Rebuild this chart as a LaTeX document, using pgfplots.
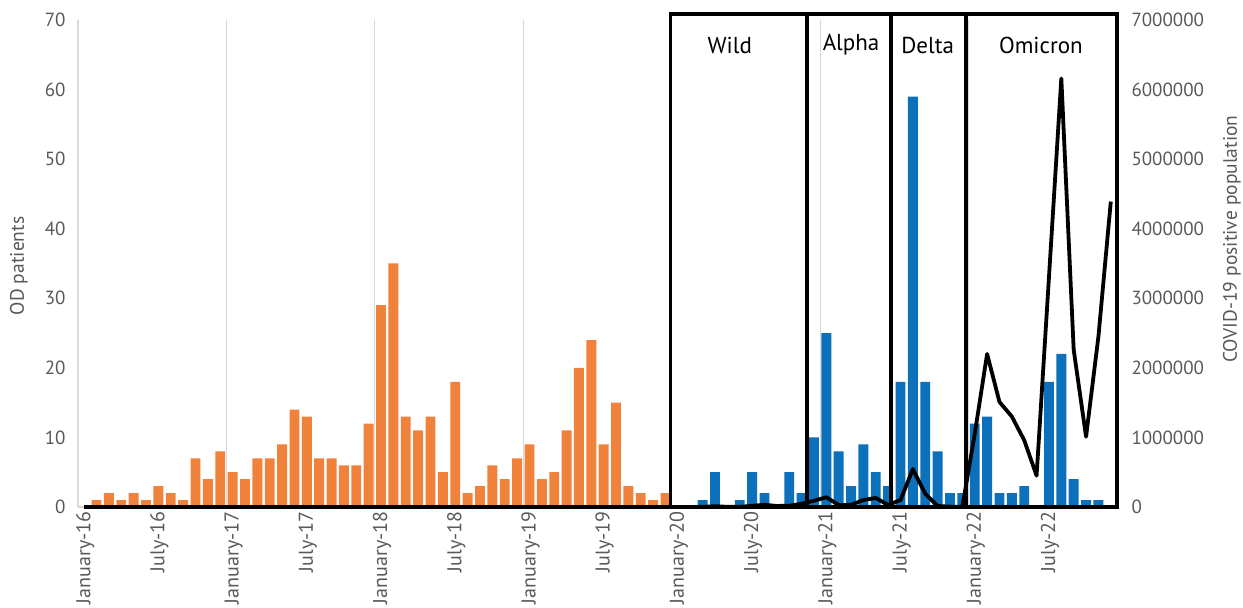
\documentclass[border=0pt]{standalone}
\usepackage{pgfplots}
\pgfplotsset{compat=1.18}
\usepackage{fontspec}
\setmainfont{PT Sans}
\definecolor{barorange}{RGB}{241,130,60}
\definecolor{barblue}{RGB}{12,112,186}
\definecolor{txtgray}{RGB}{89,89,89}
\definecolor{gridgray}{RGB}{217,217,217}

\pgfplotstableread{
x y
0 0
1 1
2 2
3 1
4 2
5 1
6 3
7 2
8 1
9 7
10 4
11 8
12 5
13 4
14 7
15 7
16 9
17 14
18 13
19 7
20 7
21 6
22 6
23 12
24 29
25 35
26 13
27 11
28 13
29 5
30 18
31 2
32 3
33 6
34 4
35 7
36 9
37 4
38 5
39 11
40 20
41 24
42 9
43 15
44 3
45 2
46 1
47 2
}\prepandemic

\pgfplotstableread{
x y
48 0
49 0
50 1
51 5
52 0
53 1
54 5
55 2
56 0
57 5
58 2
59 10
60 25
61 8
62 3
63 9
64 5
65 3
66 18
67 59
68 18
69 8
70 2
71 2
72 12
73 13
74 2
75 2
76 3
77 0
78 18
79 22
80 4
81 1
82 1
83 0
}\pandemic

\pgfplotstableread{
x y
0 0
47 0
48 0
49 200
50 2000
51 12000
52 2500
53 2000
54 17000
55 32000
56 15000
57 18000
58 47000
59 90000
60 140000
61 30000
62 30000
63 100000
64 130000
65 30000
66 100000
67 545000
68 190000
69 15000
70 5000
71 5000
72 1050000
73 2200000
74 1510000
75 1300000
76 960000
77 450000
78 3300000
79 6160000
80 2260000
81 1010000
82 2450000
83 4390000
}\covid

\begin{document}
\begin{tikzpicture}[x=1pt,y=1pt]
\path[use as bounding box] (-78,-101) rectangle (1165,507);
\begin{axis}[
  at={(0,0)}, anchor=south west,
  scale only axis, width=1039pt, height=487pt,
  xmin=-0.5, xmax=83.5, ymin=0, ymax=70,
  clip=false,
  axis x line*=bottom, axis y line*=left,
  axis line style={-, draw=gridgray, line width=1.2pt},
  major tick length=0pt,
  ytick={0,10,20,30,40,50,60,70},
  yticklabel style={text=txtgray, font=\fontsize{19}{23}\selectfont, xshift=-9pt},
  xtick={0,6,12,18,24,30,36,42,48,54,60,66,72,78},
  xticklabels={January-16,July-16,January-17,July-17,January-18,July-18,January-19,July-19,January-20,July-20,January-21,July-21,January-22,July-22},
  xticklabel style={rotate=90, anchor=east, text=txtgray, font=\fontsize{20}{24}\selectfont, yshift=-1pt, xshift=-1pt},
  extra x ticks={-0.5,11.5,23.5,35.5,47.5,59.5,71.5},
  extra x tick labels={},
  extra x tick style={grid=major},
  major grid style={draw=gridgray, line width=1.2pt},
  /pgf/number format/assume math mode=true,
  ylabel={OD patients},
  every axis y label/.style={at={(axis description cs:-0.0568,0.495)}, rotate=90, anchor=center, text=txtgray, font=\fontsize{19.5}{23}\selectfont},
]
\addplot[ybar, bar width=0.8, bar shift=0pt, fill=barorange, draw=none] table[x=x,y=y] {\prepandemic};
\addplot[ybar, bar width=0.8, bar shift=0pt, fill=barblue, draw=none] table[x=x,y=y] {\pandemic};
\end{axis}
\begin{axis}[
  at={(0,0)}, anchor=south west,
  scale only axis, width=1039pt, height=487pt,
  xmin=-0.5, xmax=83.5, ymin=0, ymax=7000000,
  clip=false,
  axis x line=none, axis y line*=right,
  axis line style={draw=none},
  major tick length=0pt,
  ytick={0,1000000,2000000,3000000,4000000,5000000,6000000,7000000},
  scaled y ticks=false,
  yticklabel style={text=txtgray, font=\fontsize{19}{23}\selectfont, xshift=11pt,
    /pgf/number format/fixed, /pgf/number format/1000 sep={}},
  /pgf/number format/assume math mode=true,
  ylabel={COVID-19 positive population},
  every axis y label/.style={at={(axis description cs:1.1107,0.55)}, rotate=90, anchor=center, text=txtgray, font=\fontsize{19.5}{23}\selectfont},
]
\addplot[black, line width=3.8pt, line join=round, mark=none] table[x=x,y=y] {\covid};
\draw[line width=3.6pt, line join=miter] (axis cs:47.4,0) rectangle (axis cs:58.45,7090000);
\draw[line width=3.6pt, line join=miter] (axis cs:58.45,0) rectangle (axis cs:65.25,7090000);
\draw[line width=3.6pt, line join=miter] (axis cs:65.25,0) rectangle (axis cs:71.3,7090000);
\draw[line width=3.6pt, line join=miter] (axis cs:71.3,0) rectangle (axis cs:83.5,7090000);
\node[font=\fontsize{23}{28}\selectfont] at (axis cs:52.2,6640000) {Wild};
\node[font=\fontsize{23}{28}\selectfont] at (axis cs:62.0,6640000) {Alpha};
\node[font=\fontsize{23}{28}\selectfont] at (axis cs:68.2,6640000) {Delta};
\node[font=\fontsize{23}{28}\selectfont] at (axis cs:77.35,6640000) {Omicron};
\end{axis}
\end{tikzpicture}
\end{document}
